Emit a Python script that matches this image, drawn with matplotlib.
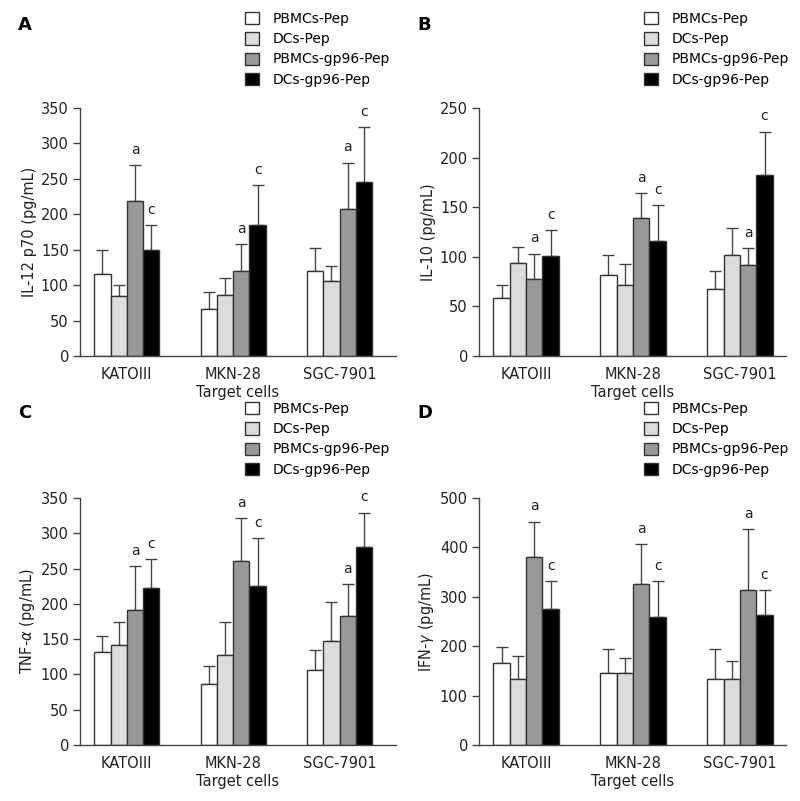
import matplotlib
matplotlib.use('Agg')
import matplotlib.pyplot as plt
import numpy as np

plt.rcParams['font.family'] = 'DejaVu Sans'

cells = ['KATOIII', 'MKN-28', 'SGC-7901']
groups = ['PBMCs-Pep', 'DCs-Pep', 'PBMCs-gp96-Pep', 'DCs-gp96-Pep']
colors = ['#ffffff', '#dcdcdc', '#999999', '#000000']

# means per group (rows) x target cell (cols), and upper error
il12_mean = [[116, 66, 120], [85, 86, 106], [219, 120, 207], [149, 185, 245]]
il12_err = [[34, 24, 33], [15, 24, 21], [50, 38, 66], [36, 56, 78]]
il12_marks = [['', '', ''], ['', '', ''], ['a', 'a', 'a'], ['c', 'c', 'c']]

il10_mean = [[58, 82, 68], [94, 72, 102], [78, 139, 92], [101, 116, 182]]
il10_err = [[14, 20, 18], [16, 21, 27], [25, 25, 17], [26, 36, 44]]
il10_marks = [['', '', ''], ['', '', ''], ['a', 'a', 'a'], ['c', 'c', 'c']]

tnf_mean = [[132, 87, 106], [141, 128, 148], [192, 261, 183], [222, 225, 281]]
tnf_err = [[22, 25, 29], [34, 47, 55], [61, 60, 45], [41, 68, 48]]
tnf_marks = [['', '', ''], ['', '', ''], ['a', 'a', 'a'], ['c', 'c', 'c']]

ifn_mean = [[165, 145, 133], [133, 145, 133], [380, 325, 313], [276, 260, 263]]
ifn_err = [[33, 50, 61], [47, 32, 38], [72, 81, 124], [56, 71, 51]]
ifn_marks = [['', '', ''], ['', '', ''], ['a', 'a', 'a'], ['c', 'c', 'c']]

W, H = 800, 801
fig = plt.figure(figsize=(W / 100, H / 100), dpi=100)


def px_axes(left, top, right, bottom):
    return fig.add_axes([left / W, 1 - bottom / H, (right - left) / W, (bottom - top) / H])


def draw_panel(ax, means, errs, marks, ylabel, ymax, ystep, letter, lx, ly, leg_x, leg_y, xmax):
    x = np.arange(len(cells))
    bw = 0.153
    bars = []
    for i, g in enumerate(groups):
        pos = x + (i - 1.5) * bw
        b = ax.bar(pos, means[i], bw, color=colors[i], edgecolor='#333333',
                   linewidth=1.0, label=g, zorder=2)
        ax.errorbar(pos, means[i], yerr=[np.zeros(len(cells)), errs[i]], fmt='none',
                    ecolor='#444444', elinewidth=1.0, capsize=4.5, capthick=1.0, zorder=1)
        for j, m in enumerate(marks[i]):
            if m:
                ax.annotate(m, (pos[j], means[i][j] + errs[i][j]), xytext=(0, 6),
                            textcoords='offset points', ha='center', va='bottom',
                            fontsize=10, color='#222222')
        bars.append(b)

    ax.set_xlim(-0.44, xmax)
    ax.set_ylim(0, ymax)
    ax.set_yticks(np.arange(0, ymax + 1, ystep))
    ax.set_xticks(x)
    ax.set_xticklabels(cells)
    ax.tick_params(axis='x', length=0, pad=8, labelsize=10.5, colors='#222222')
    ax.tick_params(axis='y', direction='out', length=5, width=1, pad=3, labelsize=10.5,
                   colors='#444444', labelcolor='#222222')
    ax.spines['top'].set_visible(False)
    ax.spines['right'].set_visible(False)
    for s in ('left', 'bottom'):
        ax.spines[s].set_color('#444444')
        ax.spines[s].set_linewidth(1.0)
    ax.set_xlabel('Target cells', fontsize=10.5, labelpad=2, color='#222222')
    ax.set_ylabel(ylabel, fontsize=10.5, labelpad=3, color='#222222')

    fig.text(lx / W, 1 - ly / H, letter, fontsize=13, fontweight='bold', va='center', ha='left')
    fig.legend(bars, groups, loc='upper left',
               bbox_to_anchor=(leg_x / W, 1 - leg_y / H), frameon=False,
               fontsize=10, handlelength=1.0, handleheight=1.0, handletextpad=1.0,
               labelspacing=0.45, borderpad=0, borderaxespad=0)


axA = px_axes(80, 108, 396, 356)
draw_panel(axA, il12_mean, il12_err, il12_marks, 'IL-12 p70 (pg/mL)', 350, 50,
           'A', 18, 25, 245, 12, 2.53)

axB = px_axes(479, 108, 786, 356)
draw_panel(axB, il10_mean, il10_err, il10_marks, 'IL-10 (pg/mL)', 250, 50,
           'B', 417, 25, 644, 12, 2.43)

axC = px_axes(80, 498, 396, 745)
draw_panel(axC, tnf_mean, tnf_err, tnf_marks, r'TNF-$\alpha$ (pg/mL)', 350, 50,
           'C', 18, 413, 245, 402, 2.53)

axD = px_axes(479, 498, 786, 745)
draw_panel(axD, ifn_mean, ifn_err, ifn_marks, r'IFN-$\gamma$ (pg/mL)', 500, 100,
           'D', 417, 413, 644, 402, 2.43)

fig.savefig('out.png', dpi=100)
